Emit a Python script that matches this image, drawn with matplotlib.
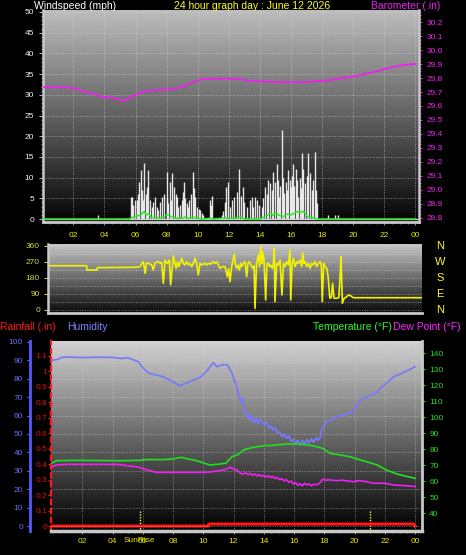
import matplotlib
matplotlib.use('Agg')
import numpy as np
import matplotlib.pyplot as plt
import matplotlib.transforms as mtransforms
from matplotlib.ticker import MultipleLocator

plt.rcParams['font.family'] = ['Liberation Sans', 'DejaVu Sans']

W, H = 466, 555

# ---------------- data ----------------
title = '24 hour graph day : June 12 2026'
hour_ticks = [2, 4, 6, 8, 10, 12, 14, 16, 18, 20, 22, 24]
hour_labels = ['02', '04', '06', '08', '10', '12', '14', '16', '18', '20', '22', '00']

baro_h = [0, 1, 2, 2.6, 3.2, 3.9, 4.5, 5.0, 5.3, 5.6, 6.2, 6.9, 7.6, 8.4, 9.0, 9.6, 10.2,
          11.0, 11.9, 12.6, 13.2, 14.0, 14.8, 15.8, 16.5, 17.2, 17.9, 18.6, 19.2, 19.8,
          20.3, 21.0, 21.6, 22.2, 22.8, 23.4, 24]
baro_v = [29.733, 29.735, 29.729, 29.705, 29.690, 29.662, 29.660, 29.645, 29.636, 29.660, 29.690,
          29.712, 29.715, 29.721, 29.738, 29.765, 29.791, 29.795, 29.795, 29.793, 29.781, 29.775,
          29.772, 29.769, 29.770, 29.772, 29.779, 29.785, 29.798, 29.808, 29.816, 29.835, 29.850,
          29.869, 29.885, 29.895, 29.900]

gust_h = [3.57, 5.69, 5.78, 5.85, 5.97, 6.08, 6.15, 6.25, 6.33, 6.40, 6.46, 6.57, 6.65, 6.72,
          6.83, 6.93, 7.05, 7.15, 7.25, 7.35, 7.47, 7.58, 7.68, 7.85, 8.00, 8.05, 8.11, 8.22,
          8.30, 8.37, 8.48, 8.58, 8.65, 8.75, 8.85, 8.97, 9.05, 9.14, 9.20, 9.29, 9.36, 9.44,
          9.55, 9.68, 9.75, 9.83, 9.93, 10.05, 10.15, 10.25, 10.36, 10.79, 10.85, 10.92, 11.54,
          11.65, 11.75, 11.82, 11.97, 12.10, 12.20, 12.36, 12.50, 12.66, 12.78, 12.89, 13.00,
          13.20, 13.35, 13.47, 13.58, 13.69, 13.80, 13.95, 14.11, 14.20, 14.33, 14.45, 14.55,
          14.65, 14.75, 14.86, 14.95, 15.08, 15.15, 15.23, 15.30, 15.40, 15.48, 15.55, 15.65,
          15.75, 15.83, 15.92, 16.00, 16.05, 16.11, 16.20, 16.30, 16.38, 16.47, 16.55, 16.62,
          16.69, 16.80, 16.90, 17.00, 17.11, 17.20, 17.33, 17.42, 17.54, 17.60, 17.65, 18.40,
          18.83, 19.00]
gust_mph = [1.0, 5.4, 5.4, 3.5, 4.6, 4.6, 6.0, 9.0, 11.8, 7.0, 4.6, 13.6, 6.0, 7.8,
            11.8, 4.6, 3.0, 4.0, 5.4, 3.0, 2.2, 4.0, 5.4, 6.0, 11.3, 5.0, 3.8, 9.0,
            4.5, 11.0, 7.8, 6.0, 5.4, 3.0, 3.5, 4.6, 6.5, 8.9, 5.0, 3.8, 3.0, 4.6,
            6.0, 11.3, 7.5, 5.4, 3.0, 2.5, 2.2, 1.5, 1.0, 4.6, 3.5, 5.5, 1.0,
            2.0, 4.0, 7.8, 9.0, 3.0, 4.5, 5.4, 6.5, 12.2, 5.5, 7.8, 4.0,
            3.0, 4.5, 5.4, 3.0, 5.4, 4.5, 3.5, 3.0, 5.0, 7.8, 6.0, 9.5,
            8.6, 7.0, 11.3, 9.0, 13.4, 9.5, 5.4, 8.0, 21.5, 10.0, 6.2, 9.0,
            7.0, 11.8, 9.5, 7.8, 10.5, 13.4, 8.0, 12.2, 9.5, 5.4, 10.0, 7.5,
            15.9, 12.0, 8.6, 10.5, 15.9, 11.0, 7.0, 9.5, 16.3, 7.0, 3.8, 1.0,
            1.0, 1.0]

avg_h = [0, 5.6, 5.9, 6.2, 6.4, 6.55, 6.7, 6.85, 7.0, 7.3, 7.6, 7.85, 8.0, 8.15, 8.3, 8.6,
         9.0, 9.2, 9.4, 9.7, 10.3, 10.8, 11.0, 11.8, 12.0, 12.5, 12.7, 13.0, 14.0, 14.3, 14.5,
         14.7, 14.85, 15.0, 15.2, 15.45, 15.6, 15.8, 16.0, 16.2, 16.4, 16.6, 16.75, 16.9,
         17.1, 17.3, 17.5, 17.7, 24]
avg_mph = [0, 0, 0.6, 0.8, 1.2, 1.8, 1.0, 1.3, 0.4, 0.3, 0.2, 0.5, 1.0, 0.9, 0.6, 0.2,
           0.2, 0.5, 0.2, 0.4, 0, 0.2, 0, 0.3, 0.1, 0.3, 0.5, 0, 0, 0.5, 1.0,
           1.4, 0.9, 1.5, 1.0, 0.5, 0.9, 1.2, 1.0, 1.4, 1.8, 1.5, 1.9, 1.4,
           0.5, 0.4, 0.2, 0, 0]

dir_h = [0.0, 2.37, 2.38, 3.05, 3.06, 5.17, 5.5, 5.82, 5.95, 6.04, 6.15, 6.25, 6.36, 6.47,
         6.58, 6.68, 6.79, 6.9, 7.01, 7.12, 7.22, 7.33, 7.44, 7.52, 7.59, 7.72, 7.8, 7.98,
         8.08, 8.16, 8.24, 8.33, 8.41, 8.52, 8.62, 8.73, 8.84, 8.95, 9.05, 9.16, 9.27, 9.38,
         9.48, 9.59, 9.7, 9.81, 9.92, 10.03, 10.13, 10.24, 10.35, 10.45, 10.56, 10.67, 10.78,
         10.89, 11.0, 11.16, 11.32, 11.47, 11.55, 11.64, 11.75, 11.92, 12.0, 12.07, 12.16,
         12.25, 12.33, 12.4, 12.5, 12.61, 12.72, 12.8, 12.89, 13.0, 13.11, 13.2, 13.26,
         13.36, 13.48, 13.55, 13.62, 13.7, 13.75, 13.84, 13.95, 14.03, 14.12, 14.2, 14.27,
         14.38, 14.45, 14.51, 14.55, 14.66, 14.77, 14.88, 15.0, 15.1, 15.2, 15.31, 15.42,
         15.52, 15.57, 15.66, 15.74, 15.85, 15.96, 16.06, 16.17, 16.28, 16.34, 16.42, 16.5,
         16.6, 16.71, 16.82, 16.92, 17.03, 17.14, 17.25, 17.36, 17.46, 17.55, 17.61, 17.7,
         17.79, 17.9, 17.99, 18.1, 18.2, 18.28, 18.37, 18.54, 18.68, 18.76, 18.82, 18.91,
         19.02, 19.15, 19.3, 19.45, 19.62, 24.0]
dir_deg = [249, 249, 225, 225, 238, 240, 240, 244, 262, 272, 206, 265, 262, 258,
           253, 225, 262, 270, 272, 262, 268, 150, 281, 270, 262, 281, 141, 304,
           262, 234, 272, 244, 262, 291, 262, 253, 272, 253, 262, 244, 262, 291,
           262, 197, 262, 253, 258, 262, 253, 262, 258, 262, 272, 262, 272,
           253, 234, 244, 244, 187, 234, 159, 244, 315, 253, 234, 253,
           225, 262, 244, 262, 272, 187, 262, 272, 253, 234, 250, 9,
           262, 309, 244, 356, 262, 328, 281, 56, 262, 262, 244, 253,
           234, 262, 347, 47, 262, 253, 281, 84, 262, 244, 272, 253,
           340, 56, 262, 290, 244, 272, 262, 281, 244, 322, 262, 272,
           244, 262, 234, 262, 253, 272, 244, 262, 272, 253, 47, 262,
           244, 234, 187, 66, 72, 150, 66, 66, 70, 187, 300, 38,
           66, 72, 84, 80, 69, 69]

hum_h = [0.0, 0.4, 0.6, 1.0, 2.0, 3.0, 4.0, 4.6, 5.0, 5.3, 5.7, 6.0, 6.4, 7.3, 8.0, 8.45,
         9.1, 9.8, 10.2, 10.67, 10.9, 11.2, 11.6, 11.9, 12.2, 12.4, 12.5, 12.6, 12.75, 12.9,
         13.0, 13.1, 13.2, 13.35, 13.5, 13.6, 13.75, 13.9, 14.05, 14.2, 14.35, 14.5, 14.6,
         14.75, 14.9, 15.05, 15.2, 15.35, 15.5, 15.65, 15.8, 15.95, 16.1, 16.25, 16.4, 16.55,
         16.7, 16.85, 17.0, 17.15, 17.3, 17.45, 17.6, 17.75, 17.85, 18.0, 18.15, 18.4, 18.6,
         18.8, 19.2, 19.6, 19.9, 20.1, 20.4, 20.8, 21.2, 21.5, 21.7, 22.1, 22.6, 23.0, 23.4, 24.0]
hum_pct = [90.0, 90.5, 91.5, 91.8, 91.5, 91.7, 91.6, 91.0, 91.4, 90.5, 89.3, 86.0, 83.0, 81.2,
           78.4, 76.1, 78.4, 80.8, 83.9, 88.8, 86.5, 87.5, 87.5, 83.0, 75.7, 70.0, 67.0, 69.5,
           61.2, 59.0, 61.0, 57.5, 60.0, 56.0, 58.5, 55.5, 58.0, 56.5, 55.0, 56.5, 53.0, 54.5,
           52.0, 53.5, 50.5, 51.0, 48.5, 50.0, 47.5, 49.0, 46.0, 47.0, 45.0, 46.5, 44.0, 46.5,
           44.5, 47.0, 45.0, 47.5, 45.5, 48.0, 46.5, 48.5, 53.0, 55.0, 56.7, 57.5, 58.5, 59.4,
           60.3, 61.0, 62.1, 65.0, 68.5, 70.3, 71.2, 73.0, 74.8, 77.5, 81.1, 82.5, 84.0, 86.6]

temp_h = [0.0, 0.3, 1.5, 3.0, 4.5, 5.8, 6.2, 7.5, 8.0, 8.5, 9.0, 9.6, 10.0, 10.45, 11.0, 11.5,
          11.9, 12.3, 12.67, 13.3, 14.0, 14.6, 15.5, 16.4, 17.0, 17.3, 17.9, 18.4, 19.2, 19.7,
          20.4, 21.0, 21.5, 22.1, 22.8, 23.4, 24.0]
temp_f = [71.3, 72.7, 72.9, 72.8, 72.7, 72.9, 73.4, 73.4, 73.8, 74.8, 73.8, 72.6, 71.3, 70.0,
          70.5, 71.2, 75.2, 76.5, 79.4, 81.1, 82.0, 82.3, 83.1, 83.1, 82.3, 81.9, 80.4, 77.3,
          76.0, 75.2, 73.1, 71.5, 70.0, 66.9, 64.4, 63.0, 61.7]

dew_h = [0.0, 0.3, 1.0, 3.0, 4.5, 5.0, 5.6, 6.3, 6.9, 8.0, 9.0, 10.0, 10.5, 11.0, 11.5, 11.77,
         12.0, 12.2, 12.5, 12.65, 12.8, 12.95, 13.1, 13.25, 13.4, 13.55, 13.7, 13.85, 14.0,
         14.15, 14.3, 14.45, 14.6, 14.75, 14.9, 15.05, 15.2, 15.35, 15.5, 15.65, 15.8, 15.95,
         16.1, 16.25, 16.4, 16.55, 16.7, 16.85, 17.0, 17.15, 17.3, 17.5, 17.7, 17.9, 18.1,
         18.4, 18.8, 19.2, 19.9, 20.3, 20.8, 21.2, 22.0, 22.6, 23.3, 24.0]
dew_f = [68.9, 70.0, 70.4, 70.4, 70.3, 69.5, 68.9, 66.9, 65.4, 65.4, 65.4, 65.4, 65.7, 66.4,
         67.3, 68.6, 67.5, 66.9, 64.6, 64.4, 65.2, 64.0, 64.8, 63.6, 64.4, 63.2, 64.0, 62.8,
         63.6, 62.5, 63.3, 62.2, 62.9, 61.5, 62.2, 60.8, 61.5, 60.0, 60.9, 59.2, 60.0, 58.2,
         59.0, 57.2, 58.3, 57.0, 58.6, 57.5, 58.2, 57.0, 58.0, 57.6, 58.8, 61.1, 60.5, 60.7,
         60.2, 60.5, 59.6, 60.2, 59.6, 58.6, 58.6, 57.5, 57.1, 56.6]

rain_h = [0.0, 10.35, 10.36, 23.9, 24.0]
rain_in = [0.0, 0.0, 0.013, 0.013, 0.0]

sunrise, sunset = 5.8, 21.05
compass = ['N', 'W', 'S', 'E', 'N']
compass_deg = [360, 270, 180, 90, 0]

YEL = '#e8e800'
MAG = '#f020f0'
GRN = '#20e020'
BLU = '#7878ff'
RED = '#ff1818'
FRAME = '#c8c8c8'


def rect(x0, y0, x1, y1):
    return [x0 / W, 1 - y1 / H, (x1 - x0) / W, (y1 - y0) / H]


def shade(ax, top, bottom):
    x0, x1 = ax.get_xlim()
    y0, y1 = ax.get_ylim()
    g = np.linspace(top, bottom, 256).reshape(-1, 1)
    ax.imshow(g, cmap='gray', vmin=0, vmax=1, extent=[x0, x1, y0, y1], aspect='auto',
              origin='upper', zorder=0, interpolation='bilinear')
    ax.set_xlim(x0, x1)
    ax.set_ylim(y0, y1)


fig = plt.figure(figsize=(W / 100, H / 100), dpi=100, facecolor='black')

# ---------------- top panel: wind speed + barometer ----------------
ax1 = fig.add_axes(rect(43, 10, 419, 222))
ax1.set_xlim(0.05, 24.23)
ax1.set_ylim(-0.72, 50.48)
shade(ax1, 0.74, 0.02)
ax1.set_yticks(range(0, 51, 5))
ax1.yaxis.set_minor_locator(MultipleLocator(1))
ax1.set_xticks(hour_ticks, hour_labels)
ax1.xaxis.set_minor_locator(MultipleLocator(0.5))
ax1.grid(True, which='major', color='#d8d8d8', ls=(0, (1, 1.5)), lw=0.7, alpha=0.55)
ax1.tick_params(axis='y', colors='#b0b0b0', labelcolor='#eeeeff', labelsize=6, length=3, pad=3.5)
ax1.tick_params(axis='y', which='minor', colors='#a0a0a0', length=1.8)
ax1.tick_params(axis='x', colors='#909090', labelcolor=YEL, labelsize=6, length=2, pad=5)
ax1.tick_params(axis='x', which='minor', colors='#909090', length=1.5)
ax1.vlines(gust_h, 0, gust_mph, color='#f6f6f6', lw=1.0, alpha=0.92, zorder=3)
ax1.axhline(0, color='#d0d0d0', lw=1, zorder=3)
ax1.plot(avg_h, avg_mph, color='#22ee22', lw=1.1, zorder=4)
for s in ['top', 'right']:
    ax1.spines[s].set_visible(False)
ax1.spines['left'].set_color(FRAME)
ax1.spines['left'].set_linewidth(1.8)
ax1.spines['bottom'].set_color(FRAME)
ax1.spines['bottom'].set_linewidth(2)

ax1b = ax1.twinx()
ax1b.set_ylim(28.771, 30.286)
ax1b.plot(baro_h, baro_v, color=MAG, lw=1.3)
ax1b.set_yticks([round(28.8 + 0.1 * i, 1) for i in range(15)])
ax1b.yaxis.set_minor_locator(MultipleLocator(0.025))
ax1b.tick_params(axis='y', colors=MAG, labelsize=6, length=2.5, pad=3.3)
ax1b.tick_params(axis='y', which='minor', colors=MAG, length=1.5)
for s in ['top', 'left', 'bottom']:
    ax1b.spines[s].set_visible(False)
ax1b.spines['right'].set_color(FRAME)
ax1b.spines['right'].set_linewidth(1.8)

fig.text(34 / W, 1 - 6 / H, 'Windspeed (mph)', color='white', fontsize=7.5, va='center', ha='left')
fig.text(252 / W, 1 - 6 / H, title, color='#ffff20', fontsize=7.5, va='center', ha='center')
fig.text(371 / W, 1 - 6 / H, 'Barometer (.in)', color=MAG, fontsize=7.5, va='center', ha='left')

# ---------------- middle panel: wind direction ----------------
ax2 = fig.add_axes(rect(48, 244, 422, 313))
ax2.set_xlim(-0.13, 24.06)
ax2.set_ylim(-16.9, 371)
shade(ax2, 0.78, 0.04)
ax2.set_yticks([0, 90, 180, 270, 360])
ax2.set_yticks([45, 135, 225, 315], minor=True)
ax2.set_xticks([])
ax2.grid(True, axis='y', which='both', color='#e0e0e0', ls=(0, (1, 1.5)), lw=0.7, alpha=0.5)
ax2.tick_params(axis='y', colors='#c8c820', labelcolor='#d8d840', labelsize=6, length=3, pad=2.8)
ax2.tick_params(axis='y', which='minor', length=1.8)
ax2.plot(dir_h, dir_deg, color='#f2f200', lw=1.2, zorder=3)
for s in ['top', 'right']:
    ax2.spines[s].set_visible(False)
ax2.spines['left'].set_color(FRAME)
ax2.spines['left'].set_linewidth(1.8)
ax2.spines['bottom'].set_color(FRAME)
ax2.spines['bottom'].set_linewidth(2)
trans2 = mtransforms.blended_transform_factory(fig.transFigure, ax2.transData)
for lab, d in zip(compass, compass_deg):
    fig.text(440 / W, d, lab, color='#ffff20', fontsize=8, ha='center', va='center',
             transform=trans2)

# ---------------- bottom panel: rain, humidity, temperature, dew point ----------------
ax3 = fig.add_axes(rect(51, 341, 422, 531))
ax3.set_xlim(-0.066, 24.46)
ax3.set_ylim(-0.032, 1.197)
shade(ax3, 0.82, 0.0)
ax3.set_yticks([round(0.1 * i, 1) for i in range(12)])
ax3.set_yticklabels(['0'] + ['%g' % (0.1 * i) for i in range(1, 12)])
ax3.yaxis.set_minor_locator(MultipleLocator(0.05))
ax3.set_xticks(hour_ticks, hour_labels)
ax3.xaxis.set_minor_locator(MultipleLocator(0.5))
ax3.grid(True, axis='x', color='#d8d8d8', ls=(0, (1, 1.5)), lw=0.7, alpha=0.5)
ax3.tick_params(axis='y', colors=RED, labelcolor='#e01010', labelsize=6, length=2, pad=0.5)
ax3.tick_params(axis='y', which='minor', length=1.2)
ax3.tick_params(axis='x', colors='#909090', labelcolor=YEL, labelsize=6, length=2, pad=2.7)
ax3.tick_params(axis='x', which='minor', colors='#909090', length=1.5)
ax3.plot(rain_h, rain_in, color=RED, lw=2.2, zorder=5)
for s in ['top', 'right']:
    ax3.spines[s].set_visible(False)
ax3.spines['left'].set_color(RED)
ax3.spines['left'].set_linestyle((0, (2, 2)))
ax3.spines['left'].set_linewidth(1.6)
ax3.spines['bottom'].set_color(FRAME)
ax3.spines['bottom'].set_linewidth(2.5)
for t in (sunrise, sunset):
    ax3.axvline(t, ymin=0.01, ymax=0.11, color='#ffff40', ls=(0, (1, 1)), lw=1, zorder=4)
trans3 = mtransforms.blended_transform_factory(ax3.transData, fig.transFigure)
fig.text(sunrise, 1 - 541 / H, 'SunRise', color=YEL, fontsize=6, ha='center', va='center',
         transform=trans3)

ax_h = ax3.twinx()
ax_h.set_ylim(-2.7, 100.5)
ax_h.spines['left'].set_position(('axes', (30 - 51) / 371))
ax_h.spines['left'].set_visible(True)
ax_h.yaxis.set_ticks_position('left')
ax_h.yaxis.set_label_position('left')
for s in ['top', 'right', 'bottom']:
    ax_h.spines[s].set_visible(False)
ax_h.spines['left'].set_color('#5858ff')
ax_h.spines['left'].set_linewidth(2)
ax_h.set_yticks(range(0, 101, 10))
ax_h.yaxis.set_minor_locator(MultipleLocator(2))
ax_h.tick_params(axis='y', colors='#6868ff', labelcolor='#6a6aff', labelsize=6, length=2, pad=3)
ax_h.tick_params(axis='y', which='minor', length=1.2)
ax_h.grid(True, axis='y', color='#d8d8d8', ls=(0, (1, 1.5)), lw=0.7, alpha=0.5)
ax_h.plot(hum_h, hum_pct, color=BLU, lw=1.2)

ax_t = ax3.twinx()
ax_t.set_ylim(28.75, 147.5)
for s in ['top', 'left', 'bottom']:
    ax_t.spines[s].set_visible(False)
ax_t.spines['right'].set_color(FRAME)
ax_t.spines['right'].set_linewidth(2)
ax_t.set_yticks(range(40, 141, 10))
ax_t.yaxis.set_minor_locator(MultipleLocator(5))
ax_t.tick_params(axis='y', colors=GRN, labelcolor='#20e020', labelsize=6, length=2.2, pad=3)
ax_t.tick_params(axis='y', which='minor', length=1.5)
ax_t.plot(temp_h, temp_f, color=GRN, lw=1.2)
ax_t.plot(dew_h, dew_f, color=MAG, lw=1.2)

fig.text(0, 1 - 327 / H, 'Rainfall (.in)', color=RED, fontsize=7.5, va='center', ha='left')
fig.text(67 / W, 1 - 327 / H, 'Humidity', color='#8080ff', fontsize=7.5, va='center', ha='left')
fig.text(313 / W, 1 - 327 / H, 'Temperature (°F)', color='#20ff20', fontsize=7.5, va='center', ha='left')
fig.text(393 / W, 1 - 327 / H, 'Dew Point (°F)', color='#ff20ff', fontsize=7.5, va='center', ha='left')

fig.savefig('out.png', dpi=100, facecolor='black')
